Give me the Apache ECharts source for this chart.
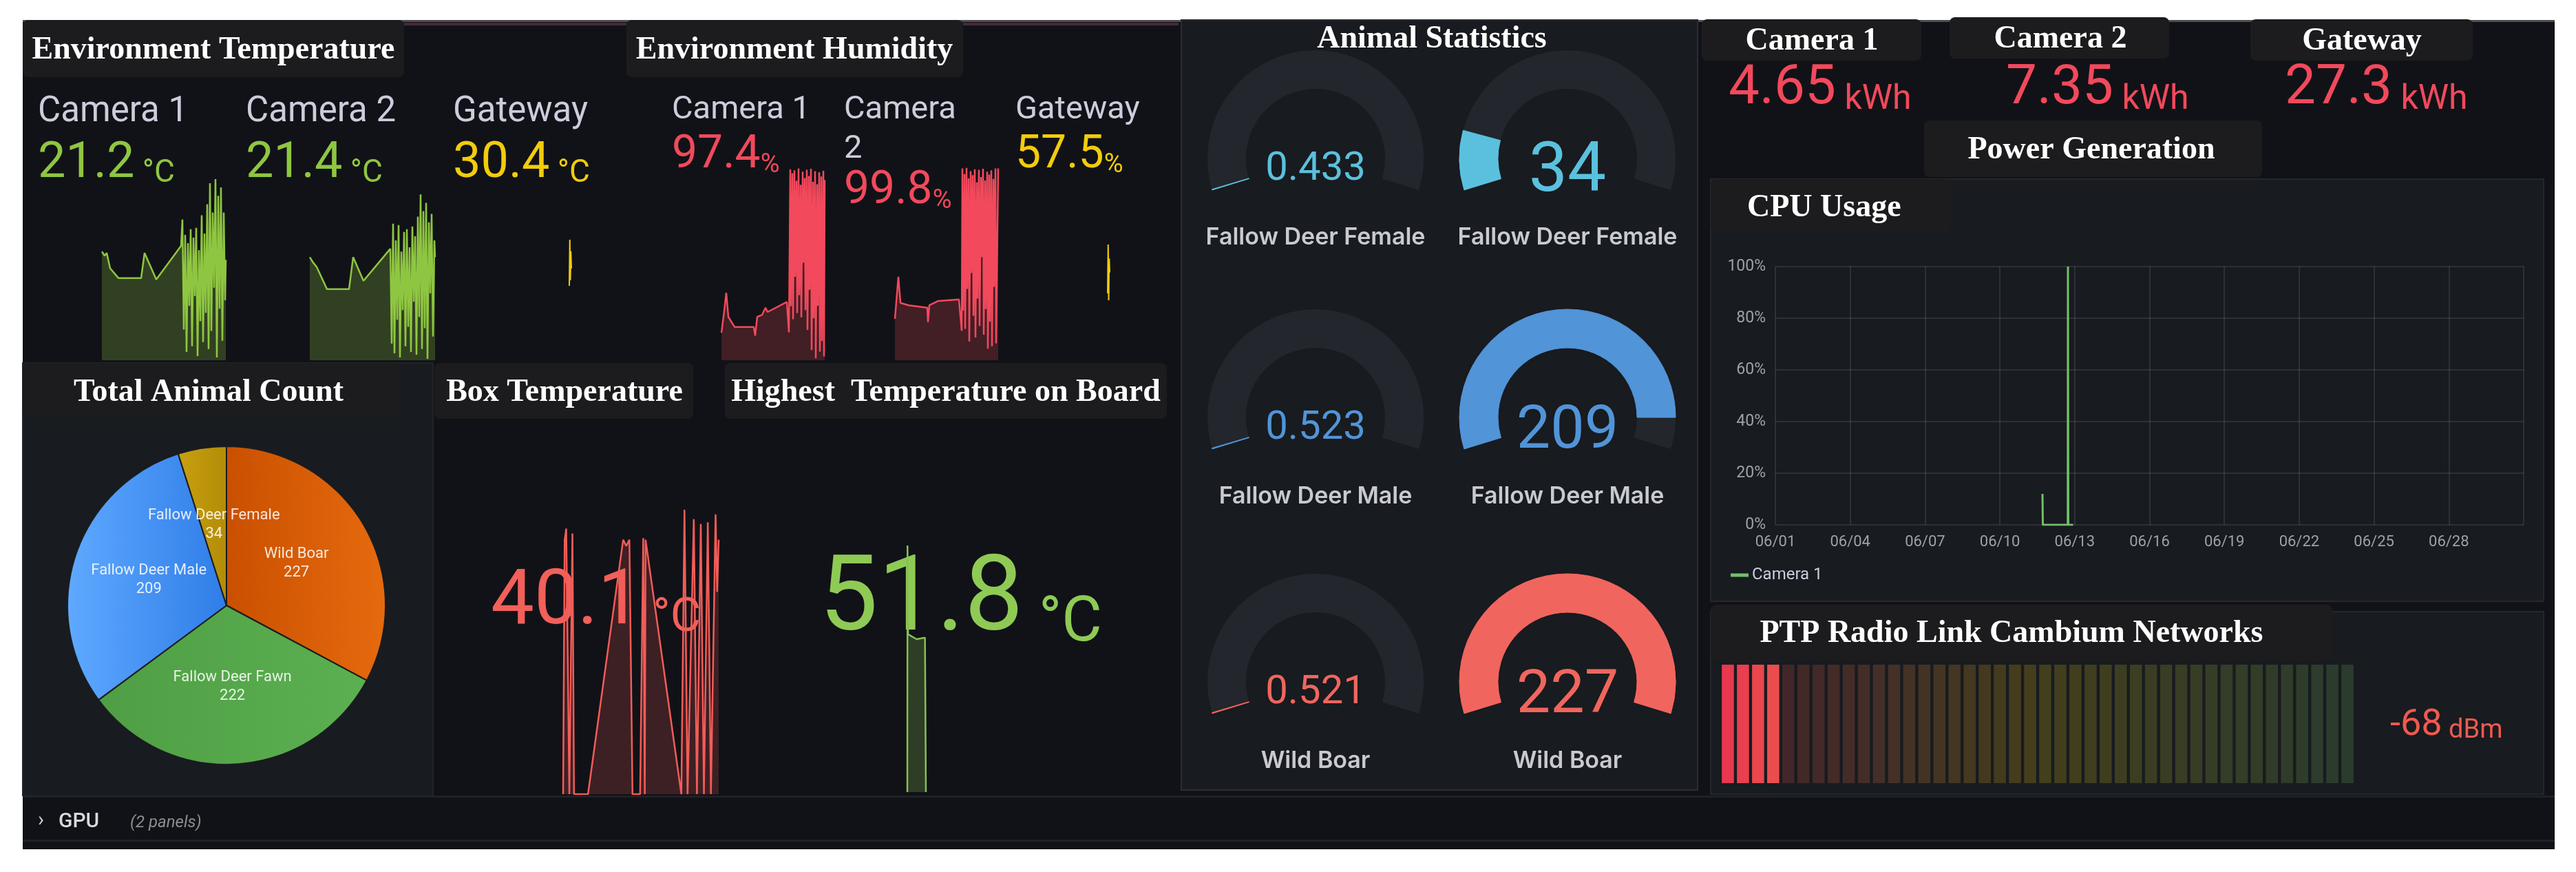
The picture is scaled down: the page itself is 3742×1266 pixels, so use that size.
<!DOCTYPE html>
<html>
<head>
<meta charset="utf-8">
<title>Wildlife monitoring dashboard</title>
<script src="https://cdn.jsdelivr.net/npm/echarts@6/dist/echarts.min.js"></script>
<style>
  html, body { margin: 0; padding: 0; background: #ffffff; }
  #main { width: 3742px; height: 1266px; }
</style>
</head>
<body>
<div id="main"></div>
<script>
// ---------- data ----------
var envNames = ['Camera 1', 'Camera 2', 'Gateway'];
var envTempLast = [21.2, 21.4, 30.4];
var envHumLast = [97.4, 99.8, 57.5];

// sparklines: [time step, value]
var tempCam1 = [[0, 21.8], [4, 21.5], [7, 21.7], [12, 20.6], [24, 19.9], [40, 19.9], [57, 19.9], [62, 21.7], [79, 19.8], [115, 22.2],
  [117, 24.1], [119, 16.2], [121, 23.0], [123, 14.6], [125, 22.4], [127, 17.9], [129, 23.4], [131, 15.0], [133, 22.8], [135, 18.6],
  [137, 23.5], [139, 14.3], [141, 21.9], [143, 16.8], [145, 24.4], [147, 15.3], [149, 23.1], [151, 17.4], [153, 25.2], [155, 14.8],
  [157, 26.7], [159, 16.1], [161, 24.6], [163, 19.2], [165, 27.0], [167, 14.2], [169, 25.8], [171, 17.7], [173, 26.4], [175, 15.4],
  [177, 24.6], [179, 18.3], [180, 21.2]];
var tempCam2 = [[0, 21.4], [5, 21.0], [10, 20.7], [25, 19.1], [57, 19.1], [63, 21.4], [78, 19.7], [117, 22.0],
  [119, 15.2], [121, 23.8], [123, 14.5], [125, 22.6], [127, 16.9], [129, 23.7], [131, 14.2], [133, 21.8], [135, 17.6], [137, 23.2],
  [139, 15.0], [141, 23.4], [143, 16.4], [145, 22.1], [147, 14.6], [149, 23.6], [151, 18.2], [153, 22.9], [155, 14.4], [157, 24.3],
  [159, 17.1], [161, 25.9], [163, 14.8], [165, 24.7], [167, 16.3], [169, 25.3], [171, 14.1], [173, 23.9], [175, 18.8], [177, 24.5],
  [179, 15.7], [181, 22.6], [182, 21.4]];
var tempGateway = [[0, 30.1], [1, 30.9], [2, 30.2], [3, 30.7], [4, 30.4]];
var humCam1 = [[0, 65.7], [4, 70.2], [7, 74.0], [10, 69.0], [19, 66.9], [47, 66.9], [49, 65.1], [52, 69.0], [59, 69.4], [64, 70.9],
  [67, 70.0], [95, 72.1], [98, 65.8], [100, 99.6], [101, 71.2], [103, 98.8], [104, 68.5], [106, 99.4], [107, 77.3], [109, 97.2],
  [110, 69.8], [112, 99.8], [113, 73.5], [115, 96.4], [116, 68.9], [118, 99.1], [119, 80.2], [121, 97.8], [122, 70.4], [124, 99.5],
  [125, 66.3], [127, 98.2], [128, 74.6], [130, 99.7], [131, 62.1], [133, 97.0], [134, 68.7], [136, 99.2], [137, 60.4], [139, 96.5],
  [140, 71.3], [142, 99.0], [143, 61.8], [145, 98.1], [146, 64.0], [148, 99.3], [149, 60.8], [150, 97.4]];
var humCam2 = [[0, 68.6], [5, 77.3], [8, 71.9], [20, 71.4], [47, 70.9], [48, 67.9], [50, 71.4], [63, 72.3], [93, 72.6], [97, 66.1],
  [98, 99.8], [99, 70.3], [101, 98.6], [102, 66.5], [104, 99.9], [105, 74.8], [107, 97.7], [108, 63.9], [110, 99.2], [111, 78.1],
  [113, 98.4], [114, 69.2], [116, 99.6], [117, 64.7], [119, 96.9], [120, 72.8], [122, 99.5], [123, 67.1], [125, 98.0], [126, 81.4],
  [128, 99.7], [129, 65.3], [131, 97.3], [132, 70.6], [134, 99.1], [135, 62.4], [137, 98.5], [138, 68.0], [140, 99.4], [141, 62.9],
  [143, 97.6], [144, 75.2], [146, 99.8], [147, 63.5], [150, 99.8]];
var humGateway = [[0, 57.2], [1, 57.9], [2, 57.1], [3, 57.7], [4, 57.5]];

var boxTemp = [[0, 24], [1, 40.1], [2, 40.8], [4, 24], [6, 40.5], [7, 24], [16, 24], [38.6, 40.1], [40.6, 39.7], [42.6, 40.1],
  [44.6, 24], [49.5, 24], [51.5, 40.2], [52.5, 24], [53, 40.1], [76, 24], [78, 42], [80, 24], [84, 41.4], [86, 24], [88.5, 41.1],
  [90.5, 24], [93, 41.2], [95, 24], [98, 41.7], [99, 36.8], [100, 40.1]];
var boxTempLast = 40.1;
var boardTemp = [[0, 40], [1, 55], [4, 49.6], [50, 49.3], [95, 49.4], [100, 40]];
var boardTempLast = 51.8;

var animalNames = ['Wild Boar', 'Fallow Deer Fawn', 'Fallow Deer Male', 'Fallow Deer Female'];
var animalCounts = [227, 222, 209, 34];

var gaugeNames = ['Fallow Deer Female', 'Fallow Deer Female', 'Fallow Deer Male', 'Fallow Deer Male', 'Wild Boar', 'Wild Boar'];
var gaugeValues = [0.433, 34, 0.523, 209, 0.521, 227];
var gaugeMax = 227;

var powerNames = ['Camera 1', 'Camera 2', 'Gateway'];
var powerKwh = [4.65, 7.35, 27.3];

var cpuTimes = ['06/11 17:00', '06/11 17:20', '06/12 17:20', '06/12 17:30', '06/12 17:50', '06/12 22:30'];
var cpuValues = [12, 0, 0, 100, 0, 0];
var cpuTickLabels = ['06/01', '06/04', '06/07', '06/10', '06/13', '06/16', '06/19', '06/22', '06/25', '06/28'];

var radioValue = -68, radioMin = -75, radioMax = 0, radioCells = 42;

// ---------- styling ----------
var BG = '#111217', PANEL = '#181b1f', TITLE_BOX = '#1c1c1e', LABEL = '#ccccdc';
var GREEN = '#8fc641', YELLOW = '#f2cc0c', RED = '#f2495c';
var TITLE_FONT = 'bold 46px "Liberation Serif"';
var NUM = 'Roboto';

var graphics = [];
function rect(x, y, w, h, fill, opt) {
  opt = opt || {};
  graphics.push({ type: 'rect', silent: true, z: 0, shape: { x: x, y: y, width: w, height: h, r: opt.r || 0 },
    style: { fill: fill, stroke: opt.stroke || null, lineWidth: opt.stroke ? 2 : 0 } });
}
function text(x, y, str, font, color, align, extra) {
  var st = { text: str, font: font, fill: color, textAlign: align || 'left', textVerticalAlign: 'middle' };
  if (extra) { for (var k in extra) st[k] = extra[k]; }
  graphics.push({ type: 'text', silent: true, z: 1, x: x, y: y, style: st });
}
// value + unit in one text, units smaller
function stat(x, y, value, unit, color, size, unitSize, gap) {
  text(x, y, '{v|' + value + '}' + (gap ? ' ' : '') + '{u|' + unit + '}', unitSize + 'px ' + NUM, color, 'left', {
    rich: {
      v: { fontSize: size, fontFamily: NUM, fill: color, lineHeight: size, verticalAlign: 'bottom' },
      u: { fontSize: unitSize, fontFamily: NUM, fill: color, lineHeight: unitSize, verticalAlign: 'bottom' }
    }
  });
}

// dashboard surfaces
rect(33, 29, 3678, 1204, BG);
rect(33, 29, 3678, 3, '#4c4d52');
rect(587, 33, 323, 4, '#4a2839');
rect(1399, 33, 313, 4, '#4a2839');
rect(33, 527, 596, 628, PANEL, { stroke: '#202329' });
rect(1716, 29, 750, 1118, PANEL, { stroke: '#2a2d33' });
rect(2485, 260, 1210, 613, PANEL, { stroke: '#24272d' });
rect(2485, 888, 1210, 265, PANEL, { stroke: '#24272d' });
rect(33, 1155, 3678, 3, '#1f2126');
rect(33, 1219, 3678, 3, '#1f2126');

// title boxes
rect(33, 29, 554, 83, TITLE_BOX, { r: 8 });
rect(910, 29, 489, 83, TITLE_BOX, { r: 8 });
rect(33, 527, 548, 79, TITLE_BOX, { r: 8 });
rect(631, 527, 376, 81, TITLE_BOX, { r: 8 });
rect(1053, 527, 642, 81, TITLE_BOX, { r: 8 });
rect(2472, 28, 319, 60, TITLE_BOX, { r: 8 });
rect(2832, 25, 319, 60, TITLE_BOX, { r: 8 });
rect(3269, 28, 323, 60, TITLE_BOX, { r: 8 });
rect(2795, 175, 491, 82, TITLE_BOX, { r: 8 });
rect(2485, 260, 347, 78, TITLE_BOX, { r: 8 });
rect(2485, 878, 903, 82, TITLE_BOX, { r: 8 });

// titles
text(310, 73, 'Environment Temperature', TITLE_FONT, '#ffffff', 'center');
text(1154, 73, 'Environment Humidity', TITLE_FONT, '#ffffff', 'center');
text(303, 570, 'Total Animal Count', TITLE_FONT, '#ffffff', 'center');
text(820, 570, 'Box Temperature', TITLE_FONT, '#ffffff', 'center');
text(1374, 570, 'Highest  Temperature on Board', TITLE_FONT, '#ffffff', 'center');
text(2080, 57, 'Animal Statistics', TITLE_FONT, '#ffffff', 'center');
text(2632, 60, powerNames[0], TITLE_FONT, '#ffffff', 'center');
text(2993, 57, powerNames[1], TITLE_FONT, '#ffffff', 'center');
text(3431, 60, powerNames[2], TITLE_FONT, '#ffffff', 'center');
text(3038, 218, 'Power Generation', TITLE_FONT, '#ffffff', 'center');
text(2538, 302, 'CPU Usage', TITLE_FONT, '#ffffff', 'left');
text(2922, 920, 'PTP Radio Link Cambium Networks', TITLE_FONT, '#ffffff', 'center');

// environment temperature stats
var tempX = [55, 357, 658];
var tempColors = [GREEN, GREEN, YELLOW];
envNames.forEach(function (n, i) {
  text(tempX[i], 163, n, '51px ' + NUM, LABEL);
  stat(tempX[i], 239, envTempLast[i], '°C', tempColors[i], 72, 46, true);
});
// environment humidity stats
var humX = [976, 1226, 1475];
var humColors = [RED, RED, YELLOW];
text(humX[0], 160, envNames[0], '47px ' + NUM, LABEL);
text(humX[1], 160, 'Camera', '47px ' + NUM, LABEL);
text(humX[1], 217, '2', '47px ' + NUM, LABEL);
text(humX[2], 160, envNames[2], '47px ' + NUM, LABEL);
stat(humX[0], 226, envHumLast[0], '%', humColors[0], 66, 38, false);
stat(humX[1], 278, envHumLast[1], '%', humColors[1], 66, 38, false);
stat(humX[2], 226, envHumLast[2], '%', humColors[2], 66, 38, false);

// big temperatures
stat(713, 877, boxTempLast, '°C', '#f2605a', 112, 68, true);
stat(1190, 876, boardTempLast, '°C', '#8fca55', 152, 90, true);

// power generation
var powerX = [2511, 2914, 3319];
powerKwh.forEach(function (v, i) { stat(powerX[i], 130, v, 'kWh', RED, 80, 50, true); });

// radio link value
stat(3472, 1053, radioValue, 'dBm', '#ef5a50', 54, 38, true);

// collapsed row
text(55, 1191, '›', '30px ' + NUM, LABEL);
text(85, 1193, 'GPU', '500 30px ' + NUM, '#d8d9da');
text(189, 1195, '(2 panels)', 'italic 24px ' + NUM, '#8e8e8e');

// ---------- grids / axes ----------
var grids = [], xAxes = [], yAxes = [], series = [];
function addGrid(left, top, width, height, xa, ya) {
  var gi = grids.length;
  grids.push({ left: left, top: top, width: width, height: height, outerBoundsMode: 'none' });
  xa.gridIndex = gi; ya.gridIndex = gi;
  xAxes.push(xa); yAxes.push(ya);
  return gi;
}
function hiddenX() { return { type: 'value', show: false, min: 'dataMin', max: 'dataMax' }; }
function hiddenY(min, max) { return { type: 'value', show: false, min: min, max: max }; }
function spark(gi, data, color, width, areaOpacity) {
  series.push({
    type: 'line', xAxisIndex: gi, yAxisIndex: gi, data: data, symbol: 'none', silent: true,
    lineStyle: { color: color, width: width },
    areaStyle: areaOpacity ? { color: color, opacity: areaOpacity, origin: 'start' } : null
  });
}

spark(addGrid(148, 260, 180, 263, hiddenX(), hiddenY(14, 27)), tempCam1, GREEN, 2.5, 0.26);
spark(addGrid(450, 260, 182, 263, hiddenX(), hiddenY(14, 27)), tempCam2, GREEN, 2.5, 0.26);
spark(addGrid(827, 348, 3, 67, hiddenX(), hiddenY('dataMin', 'dataMax')), tempGateway, YELLOW, 2, 0);
spark(addGrid(1048, 243, 150, 280, hiddenX(), hiddenY(60, 100)), humCam1, RED, 2.5, 0.22);
spark(addGrid(1300, 243, 150, 280, hiddenX(), hiddenY(60, 100)), humCam2, RED, 2.5, 0.22);
spark(addGrid(1609, 355, 3, 81, hiddenX(), hiddenY('dataMin', 'dataMax')), humGateway, YELLOW, 2, 0);
spark(addGrid(818, 740, 226, 413, hiddenX(), hiddenY(24, 42)), boxTemp, '#f25c58', 2.5, 0.2);
spark(addGrid(1318, 792, 27, 358, hiddenX(), hiddenY(40, 55)), boardTemp, '#86c152', 2.5, 0.25);

// CPU usage time series
function dayOffset(s) {
  var d = parseInt(s.slice(3, 5), 10), hh = parseInt(s.slice(6, 8), 10), mm = parseInt(s.slice(9, 11), 10);
  return d - 1 + hh / 24 + mm / 1440;
}
var cpuGrid = addGrid(2579, 387, 1087, 375, {
  type: 'value', min: 0, max: 30, interval: 3,
  axisLine: { show: false }, axisTick: { show: false },
  splitLine: { show: true, lineStyle: { color: 'rgba(204,204,220,0.12)', width: 2 } },
  axisLabel: { color: '#9fa0a8', fontSize: 22, fontFamily: NUM, margin: 14, showMaxLabel: false,
    formatter: function (v) { return cpuTickLabels[Math.round(v / 3)] || ''; } }
}, {
  type: 'value', min: 0, max: 100, interval: 20,
  axisLine: { show: false }, axisTick: { show: false },
  splitLine: { show: true, lineStyle: { color: 'rgba(204,204,220,0.12)', width: 2 } },
  axisLabel: { color: '#9fa0a8', fontSize: 23, fontFamily: NUM, margin: 14, formatter: '{value}%' }
});
series.push({
  name: 'Camera 1', type: 'line', xAxisIndex: cpuGrid, yAxisIndex: cpuGrid, symbol: 'none',
  lineStyle: { color: '#73bf69', width: 3 }, itemStyle: { color: '#73bf69' },
  data: cpuTimes.map(function (t, i) { return [dayOffset(t), cpuValues[i]]; })
});

// PTP radio link LCD bar gauge
function hex(c) { return [parseInt(c.slice(1, 3), 16), parseInt(c.slice(3, 5), 16), parseInt(c.slice(5, 7), 16)]; }
function mixHex(a, b, t) {
  var p = hex(a), q = hex(b);
  return '#' + p.map(function (v, k) { return ('0' + Math.round(v + (q[k] - v) * t).toString(16)).slice(-2); }).join('');
}
// red -> orange -> yellow -> green scheme
function schemeColor(f) {
  if (f < 0.25) return mixHex('#e8384f', '#f2804a', f / 0.25);
  if (f < 0.5) return mixHex('#f2804a', '#f2cc0c', (f - 0.25) / 0.25);
  return mixHex('#f2cc0c', '#73bf69', (f - 0.5) / 0.5);
}
var litFraction = (radioValue - radioMin) / (radioMax - radioMin);
var cellIdx = [], cellData = [];
for (var c = 0; c < radioCells; c++) {
  var col = schemeColor(c / (radioCells - 1));
  var lit = c < litFraction * radioCells;
  cellIdx.push(c);
  cellData.push({ value: 1, itemStyle: { color: lit ? col : mixHex(PANEL, col, 0.2) } });
}
var ptpGrid = addGrid(2499, 965, 922, 172,
  { type: 'category', show: false, data: cellIdx },
  { type: 'value', show: false, min: 0, max: 1 });
series.push({ type: 'bar', xAxisIndex: ptpGrid, yAxisIndex: ptpGrid, data: cellData, barCategoryGap: '20%', silent: true });

// pie
var pieColors = [['#c95000', '#e66a0e'], ['#4f9e45', '#5cb051'], ['#5fa9ff', '#2f7de8'], ['#c8a010', '#b38c08']];
series.push({
  type: 'pie', center: [329, 879], radius: 231, startAngle: 90, clockwise: true, silent: true,
  label: { position: 'inner', formatter: '{b}\n{c}', color: 'rgba(255,255,255,0.86)', fontSize: 22,
    lineHeight: 27, fontFamily: NUM },
  labelLine: { show: false },
  itemStyle: { borderColor: '#1b1d21', borderWidth: 2 },
  data: animalNames.map(function (n, i) {
    return { name: n, value: animalCounts[i], itemStyle: { color: {
      type: 'linear', x: 0, y: 0, x2: 1, y2: 0,
      colorStops: [{ offset: 0, color: pieColors[i][0] }, { offset: 1, color: pieColors[i][1] }] } } };
  })
});

// animal statistics gauges
var gaugeCols = [1911, 2277];
var gaugeRows = [230, 606, 990];
var gaugeColors = ['#5bc0de', '#5bc0de', '#5194d8', '#5194d8', '#f0665e', '#f0665e'];
gaugeValues.forEach(function (v, i) {
  var col = gaugeColors[i];
  var len = String(v).length;
  var size = len <= 2 ? 100 : (len === 3 ? 88 : 58);
  series.push({
    type: 'gauge', center: [gaugeCols[i % 2], gaugeRows[Math.floor(i / 2)]], radius: 157,
    startAngle: 197, endAngle: -17, min: 0, max: gaugeMax, silent: true,
    axisLine: { lineStyle: { width: 56, color: [[1, '#23262c']] } },
    progress: { show: true, width: 56, itemStyle: { color: col, borderColor: col, borderWidth: 1 } },
    pointer: { show: false }, anchor: { show: false },
    axisTick: { show: false }, splitLine: { show: false }, axisLabel: { show: false },
    title: { offsetCenter: [0, 115], color: '#c9cad1', fontSize: 34, fontWeight: 600, fontFamily: 'Inter' },
    detail: { offsetCenter: [0, len <= 3 ? 22 : 16], color: col, fontSize: size, fontFamily: NUM,
      fontWeight: 'normal', formatter: '{value}' },
    data: [{ value: v, name: gaugeNames[i] }]
  });
});

var chart = echarts.init(document.getElementById('main'));
chart.setOption({
  animation: false,
  backgroundColor: '#ffffff',
  textStyle: { fontFamily: NUM },
  graphic: { elements: graphics },
  legend: {
    data: ['Camera 1'], left: 2509, top: 818, icon: 'rect', itemWidth: 26, itemHeight: 5,
    textStyle: { color: LABEL, fontSize: 24, fontFamily: NUM }
  },
  grid: grids,
  xAxis: xAxes,
  yAxis: yAxes,
  series: series
});
</script>
</body>
</html>
